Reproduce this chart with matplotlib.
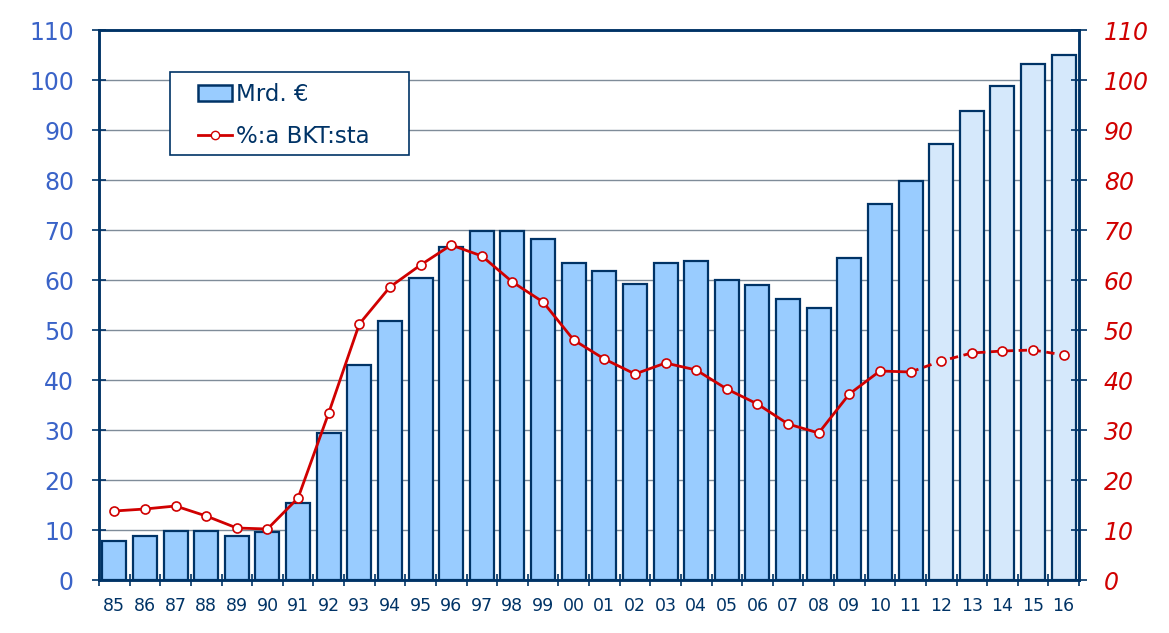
import matplotlib
matplotlib.use("Agg")
import matplotlib.pyplot as plt
from matplotlib.lines import Line2D
from matplotlib.patches import Patch, Rectangle
import numpy as np

years = ["85", "86", "87", "88", "89", "90", "91", "92", "93", "94", "95", "96", "97", "98", "99",
         "00", "01", "02", "03", "04", "05", "06", "07", "08", "09", "10", "11", "12", "13", "14", "15", "16"]
mrd_eur = [7.8, 8.8, 9.8, 9.8, 8.8, 9.6, 15.4, 29.4, 43.0, 51.8, 60.4, 66.6, 69.8, 69.8, 68.2,
           63.4, 61.8, 59.2, 63.4, 63.8, 60.0, 59.0, 56.2, 54.4, 64.4, 75.2, 79.8, 87.2, 93.8, 98.8, 103.2, 105.0]
pct_bkt = [13.8, 14.2, 14.8, 12.8, 10.4, 10.2, 16.4, 33.4, 51.2, 58.6, 63.0, 67.0, 64.8, 59.6, 55.6,
           48.0, 44.2, 41.2, 43.4, 42.0, 38.2, 35.2, 31.2, 29.4, 37.2, 41.8, 41.6, 43.8, 45.4, 45.8, 46.0, 45.0]
n_actual = 27  # 85..11 actual, 12..16 forecast
yticks = list(range(0, 111, 10))

navy = "#003366"
bar_c = "#99CCFF"
bar_fc = "#D5E8FB"
red = "#D00000"
blue_lbl = "#3A63C8"

W, H = 1169, 633
fig = plt.figure(figsize=(W / 100, H / 100), dpi=100)
ax = fig.add_axes([99 / W, 53 / H, 980 / W, 550 / H])
x = np.arange(len(years))
colors = [bar_c if i < n_actual else bar_fc for i in range(len(years))]
ax.bar(x, mrd_eur, width=0.78, color=colors, edgecolor=navy, linewidth=1.6, zorder=2)
ax.set_xlim(-0.5, len(years) - 0.5)
ax.set_ylim(0, 110)
ax.set_yticks(yticks)
ax.yaxis.grid(True, color="#7F8C99", linewidth=1, zorder=0)
ax.set_axisbelow(True)
ax.set_xticks(x)
ax.set_xticklabels(years, color=navy, fontsize=12.5)
ax.tick_params(axis="x", which="major", length=0, pad=12)
ax.set_xticks(np.arange(-0.5, len(years)), minor=True)
ax.tick_params(axis="x", which="minor", length=9, width=1.2, color=navy, direction="inout")
ax.tick_params(axis="y", labelsize=17, labelcolor=blue_lbl, length=10, width=1.2,
               color=navy, direction="inout", pad=13)
for s in ax.spines.values():
    s.set_color(navy)
    s.set_linewidth(1.8)

ax2 = ax.twinx()
ax2.set_ylim(0, 110)
ax2.set_yticks(yticks)
ax2.tick_params(axis="y", labelsize=17, labelcolor=red, length=12, width=1.2,
                color=navy, direction="inout", pad=12)
for lbl in ax2.get_yticklabels():
    lbl.set_fontstyle("italic")
for s in ax2.spines.values():
    s.set_color(navy)
    s.set_linewidth(1.8)
ax2.plot(x[:n_actual], pct_bkt[:n_actual], color=red, lw=2, zorder=3)
ax2.plot(x[n_actual - 1:], pct_bkt[n_actual - 1:], color=red, lw=2, ls=(0, (3, 2)), zorder=3)
ax2.plot(x, pct_bkt, ls="none", marker="o", ms=6.5, mfc="white", mec=red, mew=1.2, zorder=4)

# legend frame
ax2.add_patch(Rectangle((170 / W, 1 - 155 / H), 239 / W, 83 / H, transform=fig.transFigure,
                        facecolor="white", edgecolor=navy, linewidth=1.2, zorder=5))
handles = [Patch(facecolor=bar_c, edgecolor=navy, linewidth=1.8),
           Line2D([0], [0], color=red, lw=2, marker="o", ms=6, mfc="white", mec=red)]
leg = ax2.legend(handles, ["Mrd. €", "%:a BKT:sta"], loc="upper left",
                 bbox_to_anchor=((198 - 99) / 980, 1 - (83 - 30) / 550), fontsize=16.5,
                 frameon=False, borderpad=0, labelspacing=0.85,
                 handlelength=1.5, handletextpad=0.15, borderaxespad=0)
leg.set_zorder(6)
for t in leg.get_texts():
    t.set_color(navy)

fig.savefig("out.png", dpi=100)
